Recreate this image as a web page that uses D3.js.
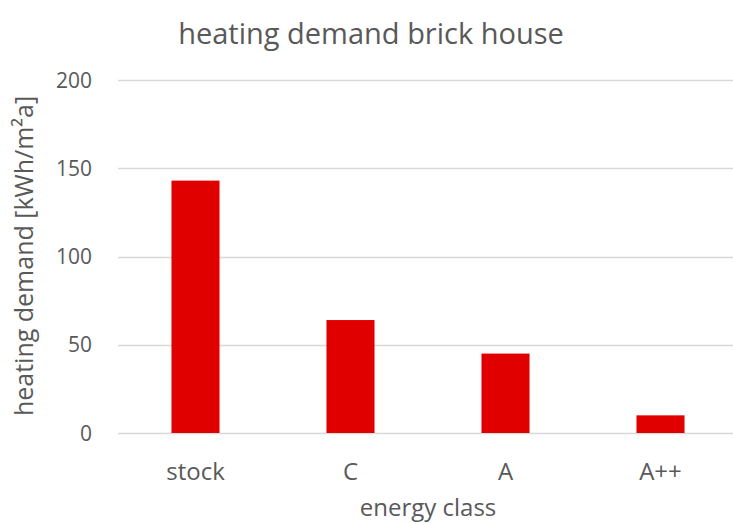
<!DOCTYPE html>
<html>
<head>
<meta charset="utf-8">
<script src="https://cdn.jsdelivr.net/npm/d3@7"></script>
<style>
  html, body { margin: 0; padding: 0; background: #ffffff; }
  svg { display: block; }
  text { font-family: "Open Sans", "Noto Sans", sans-serif; fill: #595959; }
</style>
</head>
<body>
<svg id="chart" width="733" height="524"></svg>
<script>
// Heating demand per energy class for a brick house
const categories = ["stock", "C", "A", "A++"];
const demand = [143, 64, 45, 10];
const yTicks = [0, 50, 100, 150, 200];

const titleText = "heating demand brick house";
const xTitle = "energy class";
const yTitle = "heating demand [kWh/m²a]";

const W = 733, H = 524;
const plot = { left: 118, right: 738, top: 80, bottom: 433 };

const svg = d3.select("#chart");

const x = d3.scaleBand()
  .domain(categories)
  .range([plot.left, plot.right])
  .paddingInner(0.69)
  .paddingOuter(0.345);

const y = d3.scaleLinear()
  .domain([0, 200])
  .range([plot.bottom, plot.top]);

// horizontal gridlines
svg.append("g")
  .selectAll("line")
  .data(yTicks)
  .join("line")
  .attr("x1", plot.left)
  .attr("x2", plot.right)
  .attr("y1", d => Math.round(y(d)) + 0.5)
  .attr("y2", d => Math.round(y(d)) + 0.5)
  .attr("stroke", "#d9d9d9")
  .attr("stroke-width", 1.5);

// y tick labels
svg.append("g")
  .selectAll("text")
  .data(yTicks)
  .join("text")
  .attr("x", 92)
  .attr("y", d => y(d))
  .attr("dy", "0.36em")
  .attr("text-anchor", "end")
  .attr("font-size", 21)
  .text(d => d);

// bars
svg.append("g")
  .selectAll("rect")
  .data(categories.map((c, i) => ({ c, v: demand[i] })))
  .join("rect")
  .attr("x", d => x(d.c))
  .attr("width", x.bandwidth())
  .attr("y", d => y(d.v))
  .attr("height", d => y(0) - y(d.v))
  .attr("fill", "#e10000");

// category labels
svg.append("g")
  .selectAll("text")
  .data(categories)
  .join("text")
  .attr("x", d => x(d) + x.bandwidth() / 2)
  .attr("y", 480)
  .attr("text-anchor", "middle")
  .attr("font-size", 24)
  .text(d => d);

// chart title
svg.append("text")
  .attr("x", 371)
  .attr("y", 44)
  .attr("text-anchor", "middle")
  .attr("font-size", 29)
  .text(titleText);

// x axis title
svg.append("text")
  .attr("x", (plot.left + plot.right) / 2)
  .attr("y", 516)
  .attr("text-anchor", "middle")
  .attr("font-size", 24)
  .text(xTitle);

// y axis title
svg.append("text")
  .attr("transform", "translate(33,256) rotate(-90)")
  .attr("text-anchor", "middle")
  .attr("font-size", 25)
  .text(yTitle);
</script>
</body>
</html>
